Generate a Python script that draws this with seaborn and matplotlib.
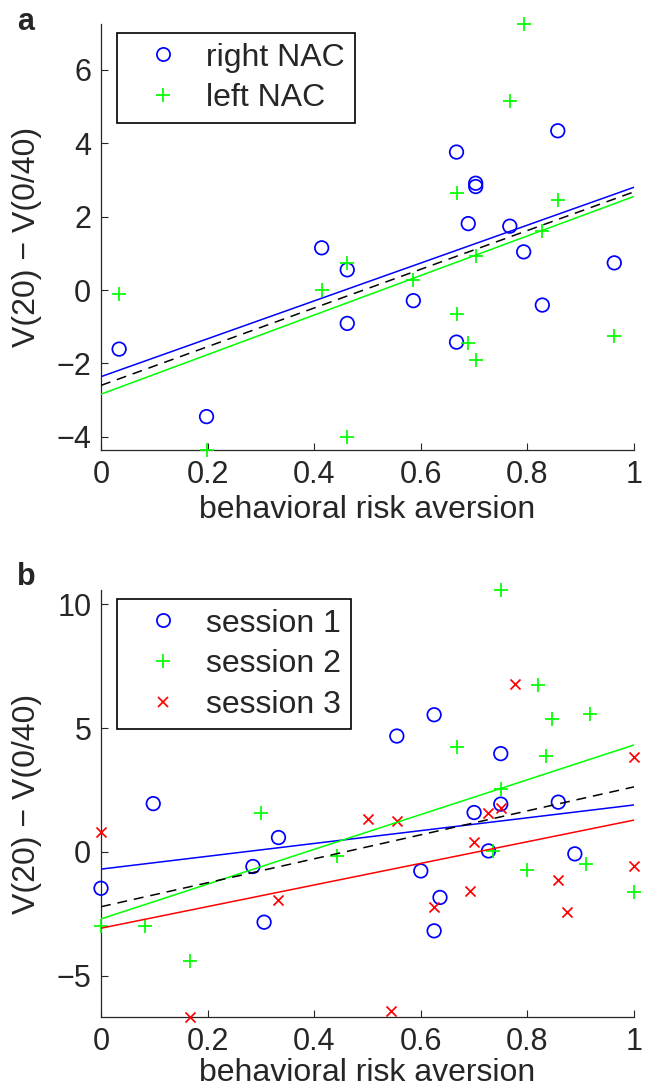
import numpy as np
import pandas as pd
import seaborn as sns
import matplotlib.pyplot as plt
from matplotlib.lines import Line2D

# panel a: same subjects, value difference in right and left NAC
risk_a = [0.034, 0.198, 0.414, 0.462, 0.462, 0.586, 0.667, 0.667,
          0.689, 0.703, 0.703, 0.767, 0.793, 0.828, 0.857, 0.963]
right_nac = [-1.61, -3.45, 1.15, 0.55, -0.91, -0.29, 3.76, -1.42,
             1.81, 2.91, 2.82, 1.74, 1.04, -0.41, 4.34, 0.74]
left_nac = [-0.11, -4.36, 0.00, 0.75, -4.00, 0.28, 2.65, -0.65,
            -1.44, 0.94, -1.91, 5.15, 7.25, 1.62, 2.45, -1.25]

# panel b: one point per subject and session
s1_x = [0.0, 0.098, 0.285, 0.306, 0.333, 0.555, 0.600, 0.625,
        0.625, 0.636, 0.700, 0.727, 0.750, 0.750, 0.858, 0.889]
s1_y = [-1.47, 1.95, -0.59, -2.84, 0.58, 4.68, -0.77, 5.54,
        -3.19, -1.84, 1.59, 0.04, 3.97, 1.93, 2.01, -0.08]
s2_x = [0.0, 0.083, 0.167, 0.300, 0.443, 0.667, 0.736, 0.750,
        0.750, 0.800, 0.819, 0.834, 0.847, 0.910, 0.917, 1.0]
s2_y = [-3.01, -2.99, -4.40, 1.59, -0.16, 4.23, 0.05, 10.58,
        2.53, -0.75, 6.74, 3.88, 5.37, -0.48, 5.58, -1.64]
s3_x = [0.0, 0.167, 0.333, 0.500, 0.545, 0.555, 0.625, 0.692,
        0.700, 0.727, 0.750, 0.777, 0.858, 0.875, 1.0, 1.0]
s3_y = [0.80, -6.67, -1.94, 1.34, -6.42, 1.25, -2.21, -1.57,
        0.38, 1.56, 1.76, 6.80, -1.13, -2.41, 3.85, -0.59]

labels_a = ['right NAC', 'left NAC']
labels_b = ['session 1', 'session 2', 'session 3']
xticks = [0, 0.2, 0.4, 0.6, 0.8, 1.0]
yticks_a = [-4, -2, 0, 2, 4, 6]
yticks_b = [-5, 0, 5, 10]

df_a = pd.concat([
    pd.DataFrame({'risk': risk_a, 'value': right_nac, 'group': labels_a[0]}),
    pd.DataFrame({'risk': risk_a, 'value': left_nac, 'group': labels_a[1]}),
], ignore_index=True)
df_b = pd.concat([
    pd.DataFrame({'risk': s1_x, 'value': s1_y, 'group': labels_b[0]}),
    pd.DataFrame({'risk': s2_x, 'value': s2_y, 'group': labels_b[1]}),
    pd.DataFrame({'risk': s3_x, 'value': s3_y, 'group': labels_b[2]}),
], ignore_index=True)

# matlab style markers
styles = {
    'o': dict(marker='o', s=95, facecolor='none', edgecolor='blue', linewidth=1.25),
    '+': dict(marker='+', s=88, linewidth=1.25),
    'x': dict(marker='x', s=52, linewidth=1.25),
}
colors = ['blue', 'lime', 'red']
marks = ['o', '+', 'x']
legend_ms = {'o': 9.5, '+': 9.4, 'x': 7.2}

sns.set_style('ticks')
plt.rcParams['font.family'] = ['Liberation Sans', 'DejaVu Sans']

fig = plt.figure(figsize=(6.49, 10.9), dpi=100)
W, H = 649, 1090
ax_a = fig.add_axes([101 / W, 1 - 450 / H, 533 / W, 426 / H])
ax_b = fig.add_axes([101 / W, 1 - 1017 / H, 533 / W, 427 / H])


def draw_panel(ax, df, labels, yticks, xpad):
    ax.set_xlim(0, 1)
    for lab, col, mk in zip(labels, colors, marks):
        sub = df[df['group'] == lab]
        sns.scatterplot(data=sub, x='risk', y='value', color=col, ax=ax,
                        legend=False, clip_on=False, zorder=3, **styles[mk])
    for lab, col in zip(labels, colors):
        sub = df[df['group'] == lab]
        sns.regplot(data=sub, x='risk', y='value', scatter=False, ci=None,
                    truncate=False, color=col, ax=ax,
                    line_kws={'lw': 1.1, 'zorder': 4})
    # pooled fit over all groups
    sns.regplot(data=df, x='risk', y='value', scatter=False, ci=None,
                truncate=False, color='black', ax=ax,
                line_kws={'lw': 1.1, 'ls': (0, (6.5, 4.5)), 'zorder': 4})

    ax.set_xlim(0, 1)
    ax.set_ylim(df['value'].min(), df['value'].max())
    ax.set_xticks(xticks)
    ax.set_xticklabels(['%g' % t for t in xticks])
    ax.set_yticks(yticks)
    ax.tick_params(direction='in', length=5, width=0.8, labelsize=22, pad=7)
    sns.despine(ax=ax)
    for sp in ['left', 'bottom']:
        ax.spines[sp].set_linewidth(0.9)
    ax.set_xlabel('behavioral risk aversion', fontsize=23, labelpad=xpad)
    ax.set_ylabel('V(20) \u2212 V(0/40)', fontsize=23)
    ax.yaxis.set_label_coords(-0.111, 0.5)

    handles = []
    for lab, col, mk in zip(labels, colors, marks):
        handles.append(Line2D([], [], ls='none', marker=mk, color=col,
                              mfc='none', mec=col, ms=legend_ms[mk], mew=1.25))
    leg = ax.legend(handles, labels, loc='upper left',
                    bbox_to_anchor=(16 / 533, 1 - 9 / 426), borderaxespad=0,
                    fontsize=23, frameon=True, fancybox=False,
                    edgecolor='black', framealpha=1, handlelength=2.3,
                    handletextpad=0.2, labelspacing=0.33, borderpad=0.3)
    leg.get_frame().set_linewidth(1.2)
    leg.set_zorder(5)


draw_panel(ax_a, df_a, labels_a, yticks_a, 4)
draw_panel(ax_b, df_b, labels_b, yticks_b, 1)

fig.text(17 / W, 1 - 30 / H, 'a', fontsize=22, fontweight='bold', va='baseline')
fig.text(17 / W, 1 - 585 / H, 'b', fontsize=22, fontweight='bold', va='baseline')

fig.savefig('out.png', dpi=100)
